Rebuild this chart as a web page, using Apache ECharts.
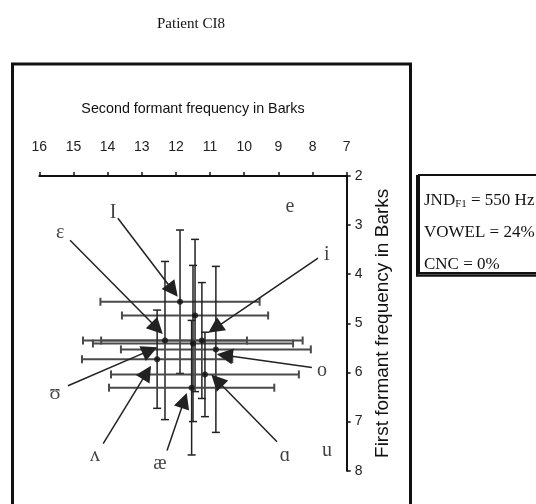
<!DOCTYPE html>
<html><head><meta charset="utf-8">
<script src="https://cdn.jsdelivr.net/npm/echarts@6/dist/echarts.min.js"></script>
<style>html,body{margin:0;padding:0;background:#fff}#c{width:536px;height:504px}</style>
</head><body><div id="c"></div>
<script>
// Mean formant values (Barks) with standard deviations
const vowelF2   = [11.88, 11.44, 12.32, 11.50, 11.24, 10.83, 12.55, 11.15, 11.54];
const vowelF1   = [4.56, 4.84, 5.35, 5.41, 5.35, 5.53, 5.73, 6.04, 6.31];
const vowelF2sd = [2.33, 2.14, 2.40, 2.93, 2.95, 2.78, 2.20, 2.75, 2.42];
const vowelF1sd = [1.46, 1.55, 1.61, 1.59, 1.18, 1.69, 1.00, 0.86, 1.37];

const xTickLabels = [16, 15, 14, 13, 12, 11, 10, 9, 8, 7];
const yTickLabels = [2, 3, 4, 5, 6, 7, 8];

// Vowel labels (positions in Barks)
const labelNames = ['I', 'ɛ', 'e', 'i', 'o', 'ʊ', 'ʌ', 'æ', 'ɑ', 'u'];
const labelF2    = [13.84, 15.39, 8.66, 7.58, 7.72, 15.54, 14.37, 12.47, 8.81, 7.58];
const labelF1    = [2.75, 3.16, 2.63, 3.61, 5.96, 6.43, 7.69, 7.86, 7.69, 7.59];

// Arrows from labels toward the data points
const arrowFromF2 = [13.70, 15.10, 7.84, 8.02, 15.16, 14.13, 12.26, 9.04];
const arrowFromF1 = [2.86, 3.31, 3.67, 5.90, 6.27, 7.45, 7.59, 7.41];
const arrowToF2   = [12.09, 12.55, 10.86, 10.57, 12.76, 12.85, 11.76, 10.80];
const arrowToF1   = [4.33, 5.10, 5.10, 5.65, 5.55, 6.00, 6.57, 6.16];

const chart = echarts.init(document.getElementById('c'));

const errData = vowelF2.map((v, i) => [v, vowelF1[i], vowelF2sd[i], vowelF1sd[i]]);
const pointData = vowelF2.map((v, i) => [v, vowelF1[i]]);
const labelData = labelNames.map((n, i) => ({ name: n, value: [labelF2[i], labelF1[i]] }));
const arrowData = arrowFromF2.map((v, i) => ({ coords: [[v, arrowFromF1[i]], [arrowToF2[i], arrowToF1[i]]] }));

const CAP = 4;
function renderErr(params, api) {
  const x = api.value(0), y = api.value(1), sx = api.value(2), sy = api.value(3);
  const l = api.coord([x - sx, y]), r = api.coord([x + sx, y]);
  const t = api.coord([x, y - sy]), b = api.coord([x, y + sy]);
  const hs = { stroke: '#4a4a4a', lineWidth: 2 };
  const vs = { stroke: '#222', lineWidth: 1.5 };
  return {
    type: 'group',
    children: [
      { type: 'line', shape: { x1: l[0], y1: l[1], x2: r[0], y2: r[1] }, style: hs },
      { type: 'line', shape: { x1: l[0], y1: l[1] - CAP, x2: l[0], y2: l[1] + CAP }, style: hs },
      { type: 'line', shape: { x1: r[0], y1: r[1] - CAP, x2: r[0], y2: r[1] + CAP }, style: hs },
      { type: 'line', shape: { x1: t[0], y1: t[1], x2: b[0], y2: b[1] }, style: vs },
      { type: 'line', shape: { x1: t[0] - CAP, y1: t[1], x2: t[0] + CAP, y2: t[1] }, style: vs },
      { type: 'line', shape: { x1: b[0] - CAP, y1: b[1], x2: b[0] + CAP, y2: b[1] }, style: vs }
    ]
  };
}

const sans = 'Liberation Sans';
const serif = 'Liberation Serif';

chart.setOption({
  animation: false,
  backgroundColor: '#fff',
  grid: { left: 39.3, right: 189.3, top: 176, bottom: 33.3, containLabel: false },
  xAxis: {
    type: 'value', position: 'top', inverse: true, min: 7, max: 16, interval: 1,
    name: 'Second formant frequency in Barks', nameLocation: 'middle', nameGap: 60,
    nameTextStyle: { fontFamily: sans, fontSize: 14.3, color: '#111' },
    axisLine: { show: true, lineStyle: { color: '#111', width: 2 } },
    axisTick: { show: true, inside: false, length: 4, lineStyle: { color: '#111', width: 1.5 } },
    axisLabel: { fontFamily: sans, fontSize: 14, color: '#222', margin: 22,
      formatter: v => xTickLabels.indexOf(v) >= 0 ? String(v) : '' },
    splitLine: { show: false }
  },
  yAxis: {
    type: 'value', position: 'right', inverse: true, min: 2, max: 8, interval: 1,
    name: 'First formant frequency in Barks', nameLocation: 'middle', nameGap: 24, nameRotate: 90,
    nameTextStyle: { fontFamily: sans, fontSize: 19, color: '#111' },
    axisLine: { show: true, lineStyle: { color: '#111', width: 2 } },
    axisTick: { show: true, inside: false, length: 4, lineStyle: { color: '#111', width: 1.5 } },
    axisLabel: { fontFamily: sans, fontSize: 14, color: '#222', margin: 8,
      formatter: v => yTickLabels.indexOf(v) >= 0 ? String(v) : '' },
    splitLine: { show: false }
  },
  graphic: [
    { type: 'rect', shape: { x: 12.5, y: 64, width: 398, height: 470 },
      style: { fill: 'none', stroke: '#111', lineWidth: 3 }, silent: true },
    { type: 'text', left: 157, top: 17,
      style: { text: 'Patient CI8', fontFamily: serif, fontSize: 15, fill: '#111' } },
    { type: 'rect', shape: { x: 419, y: 175, width: 130, height: 98 },
      style: { fill: '#fff', stroke: '#111', lineWidth: 2 }, silent: true },
    { type: 'line', shape: { x1: 417, y1: 175, x2: 417, y2: 276 }, style: { stroke: '#111', lineWidth: 2 } },
    { type: 'line', shape: { x1: 416, y1: 275.5, x2: 540, y2: 275.5 }, style: { stroke: '#111', lineWidth: 2.5 } },
    { type: 'text', x: 424, y: 185,
      style: { text: '{a|JND}{s|F1}{a| = 550 Hz}\n{a|VOWEL = 24%}\n{a|CNC = 0%}', lineHeight: 32,
        rich: {
          a: { fontFamily: serif, fontSize: 17, fill: '#111', lineHeight: 32 },
          s: { fontFamily: serif, fontSize: 11, fill: '#111', lineHeight: 32, padding: [6, 0, 0, 0] }
        } } }
  ],
  series: [
    { type: 'custom', renderItem: renderErr, data: errData, z: 2, silent: true },
    { type: 'scatter', data: pointData, symbol: 'circle', symbolSize: 6, z: 4,
      itemStyle: { color: '#111' }, silent: true },
    { type: 'lines', coordinateSystem: 'cartesian2d', data: arrowData, z: 5,
      symbol: ['none', 'triangle'], symbolSize: [12, 16],
      lineStyle: { color: '#222', width: 1.5, opacity: 1 }, silent: true },
    { type: 'scatter', data: labelData, symbolSize: 0, z: 6, silent: true,
      label: { show: true, position: 'inside', formatter: p => p.name,
        fontFamily: serif, fontSize: 20, color: '#111' } }
  ]
});
</script>
</body></html>
